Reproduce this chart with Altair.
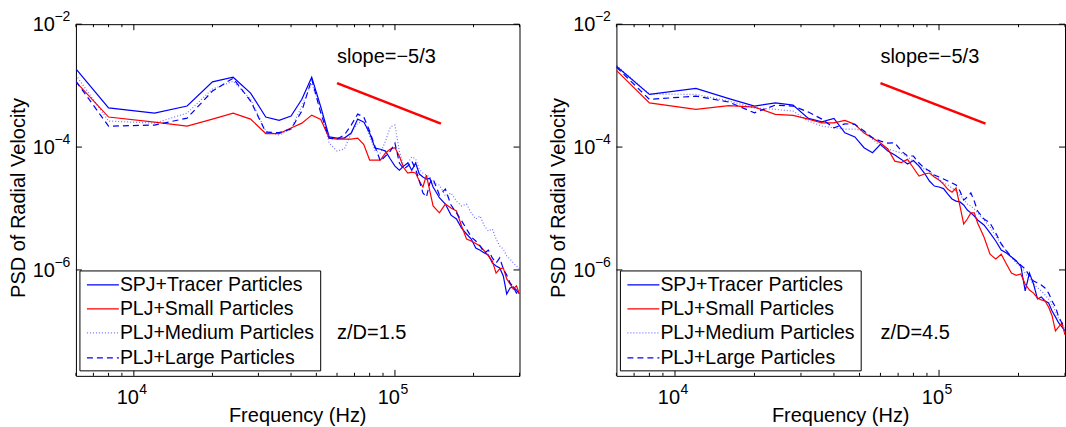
import altair as alt
import pandas as pd

FONT = "Liberation Sans, Arial, Helvetica, sans-serif"

SERIES = ["SPJ+Tracer Particles", "PLJ+Small Particles",
          "PLJ+Medium Particles", "PLJ+Large Particles"]

FREQ = [6000, 8000, 12000, 16000, 20000, 24000, 28000, 32000, 36000, 40000,
        44000, 48000, 52000, 56000, 60000, 64000, 68000, 72000, 76000, 80000,
        84000, 88000, 92000, 96000, 100000, 104000, 108000, 112000, 116000, 120000,
        124000, 128000, 132000, 136000, 140000, 148000, 156000, 164000, 172000, 180000,
        188000, 196000, 204000, 212000, 220000, 228000, 236000, 244000, 252000, 260000,
        268000, 276000, 284000, 292000, 300000]

# ---- z/D = 1.5 ----
L_TRACER = [1.87e-3, 4.35e-4, 3.57e-4, 4.65e-4, 1.15e-3, 1.37e-3, 7.55e-4, 3.08e-4, 2.72e-4, 3.19e-4,
            6.0e-4, 1.37e-3, 4.5e-4, 1.46e-4, 1.4e-4, 1.4e-4, 1.69e-4, 2.85e-4, 2.55e-4, 1.69e-4,
            9.6e-5, 9.2e-5, 8.6e-5, 6.4e-5, 4.9e-5, 4.2e-5, 4.9e-5, 5.5e-5, 4.2e-5, 5.5e-5,
            3.64e-5, 3.25e-5, 3.0e-5, 3.1e-5, 2.24e-5, 1.5e-5, 1.18e-5, 7.8e-6, 6.75e-6, 4.8e-6,
            3.85e-6, 3.19e-6, 2.28e-6, 2.1e-6, 1.89e-6, 1.75e-6, 1.3e-6, 1.16e-6, 1.08e-6, 8.0e-7,
            4.07e-7, 5.1e-7, 5.3e-7, 4.7e-7, 4.07e-7]
L_SMALL = [1.15e-3, 3.08e-4, 2.55e-4, 2.19e-4, 2.85e-4, 3.57e-4, 2.85e-4, 1.66e-4, 1.66e-4, 2.04e-4,
           2.45e-4, 3.31e-4, 2.82e-4, 1.4e-4, 1.35e-4, 1.35e-4, 1.35e-4, 1.4e-4, 1.1e-4, 6.15e-5,
           6.15e-5, 6.15e-5, 8.0e-5, 9.3e-5, 9.8e-5, 7.1e-5, 4.6e-5, 3.78e-5, 3.9e-5, 3.78e-5,
           2.8e-5, 2.24e-5, 3.5e-5, 1.93e-5, 1.1e-5, 8.5e-6, 1.18e-5, 1.02e-5, 9.1e-6, 5.2e-6,
           3.19e-6, 2.96e-6, 2.7e-6, 2.45e-6, 2.04e-6, 1.69e-6, 1.4e-6, 8.9e-7, 1.04e-6, 1.08e-6,
           7.15e-7, 5.9e-7, 4.9e-7, 5.5e-7, 4.07e-7]
L_MEDIUM = [1.48e-3, 2.65e-4, 2.45e-4, 3.57e-4, 8.8e-4, 1.18e-3, 6.0e-4, 1.82e-4, 1.57e-4, 1.96e-4,
            4.65e-4, 1.1e-3, 4.15e-4, 1.16e-4, 8.6e-5, 9.3e-5, 1.69e-4, 2.45e-4, 2.65e-4, 1.51e-4,
            8.6e-5, 8.0e-5, 1.25e-4, 2.12e-4, 2.28e-4, 8.6e-5, 4.9e-5, 5.5e-5, 6.9e-5, 6.4e-5,
            4.39e-5, 3.78e-5, 3.5e-5, 3.25e-5, 2.6e-5, 2.41e-5, 1.6e-5, 1.79e-5, 1.32e-5, 1.1e-5,
            1.18e-5, 8.5e-6, 6.75e-6, 7.55e-6, 5.2e-6, 4.3e-6, 4.65e-6, 3.19e-6, 2.45e-6, 2.19e-6,
            1.69e-6, 1.51e-6, 1.3e-6, 1.16e-6, 1.04e-6]
L_LARGE = [1.18e-3, 2.19e-4, 2.28e-4, 2.96e-4, 8.15e-4, 1.32e-3, 5.6e-4, 1.75e-4, 1.72e-4, 1.96e-4,
           3.85e-4, 1.28e-3, 3.57e-4, 1.4e-4, 1.35e-4, 1.57e-4, 2.28e-4, 3.44e-4, 3.08e-4, 1.82e-4,
           1.0e-4, 5.9e-5, 7.15e-5, 8.6e-5, 1.16e-4, 5.5e-5, 4.39e-5, 4.9e-5, 5.9e-5, 4.39e-5,
           2.8e-5, 1.79e-5, 1.54e-5, 2.6e-5, 3.02e-5, 1.66e-5, 2.07e-5, 1.14e-5, 8.5e-6, 6.3e-6,
           4.65e-6, 3.44e-6, 2.96e-6, 2.45e-6, 1.89e-6, 2.1e-6, 1.57e-6, 1.3e-6, 1.57e-6, 1.04e-6,
           8.3e-7, 6.15e-7, 5.3e-7, 4.2e-7, 4.56e-7]

# ---- z/D = 4.5 ----
R_TRACER = [2.07e-3, 7.2e-4, 9.0e-4, 6.15e-4, 4.65e-4, 5.25e-4, 4.82e-4, 2.93e-4, 2.58e-4, 2.93e-4,
            1.71e-4, 1.46e-4, 9.75e-5, 8.1e-5, 1.11e-4, 8.6e-5, 7.4e-5, 6.3e-5, 5.3e-5, 6.05e-5,
            4.9e-5, 3.78e-5, 2.8e-5, 2.32e-5, 2.24e-5, 2.11e-5, 1.72e-5, 1.43e-5, 1.32e-5, 1.28e-5,
            1.14e-5, 9.45e-6, 8.5e-6, 7.55e-6, 6.5e-6, 5.4e-6, 4.0e-6, 2.96e-6, 2.11e-6, 1.89e-6,
            1.63e-6, 1.4e-6, 1.16e-6, 4.56e-7, 8.9e-7, 5.9e-7, 3.37e-7, 3.64e-7, 3.13e-7, 2.9e-7,
            2.15e-7, 1.72e-7, 1.37e-7, 1.18e-7, 1.02e-7]
R_SMALL = [1.77e-3, 5.25e-4, 4.1e-4, 4.73e-4, 4.47e-4, 3.4e-4, 3.27e-4, 2.85e-4, 2.48e-4, 2.48e-4,
           2.72e-4, 2.34e-4, 1.69e-4, 1.4e-4, 1.16e-4, 9.3e-5, 5.9e-5, 5.6e-5, 6.3e-5, 4.56e-5,
           3.37e-5, 3.64e-5, 3.78e-5, 3.25e-5, 2.9e-5, 2.5e-5, 2.05e-5, 1.84e-5, 2.15e-5, 1.1e-5,
           5.6e-6, 6.75e-6, 8.5e-6, 8.5e-6, 5.8e-6, 3.44e-6, 1.8e-6, 1.51e-6, 1.8e-6, 1.25e-6,
           8.9e-7, 8.2e-7, 8.6e-7, 5.9e-7, 4.7e-7, 4.2e-7, 3.5e-7, 3.25e-7, 3.13e-7, 2.5e-7,
           1.8e-7, 1.02e-7, 1.18e-7, 1.37e-7, 8.8e-8]
R_MEDIUM = [2.15e-3, 7.3e-4, 7.2e-4, 5.6e-4, 4.35e-4, 4.1e-4, 3.85e-4, 2.65e-4, 2.19e-4, 2.06e-4,
            1.96e-4, 1.96e-4, 1.82e-4, 1.35e-4, 1.04e-4, 9.3e-5, 8.6e-5, 8.0e-5, 6.9e-5, 5.9e-5,
            4.9e-5, 4.39e-5, 4.07e-5, 3.37e-5, 3.02e-5, 2.6e-5, 2.41e-5, 2.15e-5, 1.93e-5, 1.66e-5,
            1.43e-5, 1.18e-5, 1.1e-5, 9.8e-6, 8.5e-6, 6.5e-6, 5.0e-6, 3.57e-6, 2.65e-6, 2.04e-6,
            1.63e-6, 1.3e-6, 1.12e-6, 8.9e-7, 7.15e-7, 5.9e-7, 5.1e-7, 4.56e-7, 3.92e-7, 3.37e-7,
            2.7e-7, 2.15e-7, 1.6e-7, 1.37e-7, 1.1e-7]
R_LARGE = [2.0e-3, 5.97e-4, 6.75e-4, 5.4e-4, 3.61e-4, 4.82e-4, 4.65e-4, 3.71e-4, 2.85e-4, 2.06e-4,
           2.39e-4, 2.34e-4, 1.82e-4, 1.42e-4, 1.25e-4, 1.16e-4, 1.17e-4, 8.6e-5, 7.15e-5, 7.15e-5,
           5.5e-5, 4.56e-5, 4.07e-5, 3.5e-5, 3.25e-5, 3.02e-5, 2.8e-5, 2.6e-5, 2.41e-5, 1.93e-5,
           1.37e-5, 1.54e-5, 1.79e-5, 1.32e-5, 9.1e-6, 6.75e-6, 5.8e-6, 4.0e-6, 2.65e-6, 2.04e-6,
           1.63e-6, 1.4e-6, 1.2e-6, 1.04e-6, 8.0e-7, 6.6e-7, 6.15e-7, 5.7e-7, 5.1e-7, 4.2e-7,
           3.13e-7, 2.5e-7, 1.72e-7, 1.37e-7, 1.18e-7]

SLOPE_F = [60000, 150000]
SLOPE_PSD = [1.1e-3, 2.4e-4]
SLOPE_LABEL = "slope=\u22125/3"
ANNOT_F = 60000
SLOPE_LABEL_PSD = 2.9e-3
ZD_LABEL_PSD = 9.5e-8
ZD_LABELS = ["z/D=1.5", "z/D=4.5"]

X_DOMAIN = [6000, 300000]
Y_DOMAIN = [1.89e-8, 1e-2]
X_MAJOR = [1e4, 1e5]
X_MAJOR_EXP = ["4", "5"]
X_MINOR = [6000, 7000, 8000, 9000, 20000, 30000, 40000, 50000, 60000, 70000,
           80000, 90000, 200000, 300000]
Y_MAJOR = [1e-2, 1e-4, 1e-6]
Y_MAJOR_EXP = ["\u22122", "\u22124", "\u22126"]
TICK_BASE = "10"
X_TITLE = "Frequency (Hz)"
Y_TITLE = "PSD of Radial Velocity"

STYLES = [
    dict(color="#0000ff"),
    dict(color="#ff0000"),
    dict(color="#0000ff", strokeDash=[1, 2], opacity=0.55),
    dict(color="#0000ff", strokeDash=[6, 4]),
]

H = 352
FS = 20
FS_LEG = 19.5


def panel(series_vals, W, zd_label, anchor=False):
    xs = alt.Scale(type="log", domain=X_DOMAIN)
    ys = alt.Scale(type="log", domain=Y_DOMAIN)

    def X(f):
        return alt.X(f"{f}:Q", scale=xs, axis=None)

    def Y(f):
        return alt.Y(f"{f}:Q", scale=ys, axis=None)

    layers = []
    for vals, st in zip(series_vals, STYLES):
        df = pd.DataFrame({"f": FREQ, "psd": vals})
        layers.append(alt.Chart(df).mark_line(strokeWidth=1.2, clip=True, **st)
                      .encode(x=X("f"), y=Y("psd")))

    # slope reference line
    sdf = pd.DataFrame({"f": SLOPE_F, "psd": SLOPE_PSD})
    layers.append(alt.Chart(sdf).mark_line(color="#ff0000", strokeWidth=2.5)
                  .encode(x=X("f"), y=Y("psd")))

    # annotations
    adf = pd.DataFrame({"f": [ANNOT_F, ANNOT_F], "psd": [SLOPE_LABEL_PSD, ZD_LABEL_PSD],
                        "t": [SLOPE_LABEL, zd_label]})
    layers.append(alt.Chart(adf).mark_text(font=FONT, fontSize=FS, align="left",
                                           baseline="middle", color="black")
                  .encode(x=X("f"), y=Y("psd"), text="t:N"))

    # inward ticks
    xmaj = pd.DataFrame({"f": X_MAJOR, "e": X_MAJOR_EXP, "b": [TICK_BASE] * len(X_MAJOR)})
    xmin = pd.DataFrame({"f": X_MINOR})
    for y0, y1 in [(H, H - 6), (0, 6)]:
        layers.append(alt.Chart(xmaj).mark_rule(color="black", strokeWidth=1)
                      .encode(x=X("f"), y=alt.value(y0), y2=alt.value(y1)))
    for y0, y1 in [(H, H - 3), (0, 3)]:
        layers.append(alt.Chart(xmin).mark_rule(color="black", strokeWidth=1)
                      .encode(x=X("f"), y=alt.value(y0), y2=alt.value(y1)))
    ymaj = pd.DataFrame({"v": Y_MAJOR, "e": Y_MAJOR_EXP, "b": [TICK_BASE] * len(Y_MAJOR)})
    for x0, x1 in [(0, 6), (W, W - 6)]:
        layers.append(alt.Chart(ymaj).mark_rule(color="black", strokeWidth=1)
                      .encode(y=Y("v"), x=alt.value(x0), x2=alt.value(x1)))

    # tick labels (10 with superscript exponent)
    layers.append(alt.Chart(xmaj).mark_text(font=FONT, fontSize=FS, align="right",
                                            baseline="middle", dx=5, color="black")
                  .encode(x=X("f"), y=alt.value(H + 22), text="b:N"))
    layers.append(alt.Chart(xmaj).mark_text(font=FONT, fontSize=14, align="left",
                                            baseline="middle", dx=5.5, color="black")
                  .encode(x=X("f"), y=alt.value(H + 14), text="e:N"))
    layers.append(alt.Chart(ymaj).mark_text(font=FONT, fontSize=FS, align="right",
                                            baseline="middle", dy=1, color="black")
                  .encode(y=Y("v"), x=alt.value(-21), text="b:N"))
    layers.append(alt.Chart(ymaj).mark_text(font=FONT, fontSize=14, align="left",
                                            baseline="middle", dy=-7, color="black")
                  .encode(y=Y("v"), x=alt.value(-21.5), text="e:N"))

    # axis titles
    tdf = pd.DataFrame({"t": [X_TITLE]})
    layers.append(alt.Chart(tdf).mark_text(font=FONT, fontSize=FS, align="center",
                                           baseline="middle", color="black")
                  .encode(x=alt.value(W / 2), y=alt.value(H + 40), text="t:N"))
    ydf = pd.DataFrame({"t": [Y_TITLE]})
    layers.append(alt.Chart(ydf).mark_text(font=FONT, fontSize=FS, align="center",
                                           baseline="middle", angle=270, color="black")
                  .encode(x=alt.value(-57), y=alt.value(H / 2 - 2), text="t:N"))

    # legend
    box = pd.DataFrame({"k": [0]})
    layers.append(alt.Chart(box).mark_rect(fill="white", stroke="black", strokeWidth=1)
                  .encode(x=alt.value(4), x2=alt.value(245),
                          y=alt.value(247), y2=alt.value(347)))
    rows = [261, 285, 309, 334]
    for name, st, ry in zip(SERIES, STYLES, rows):
        ldf = pd.DataFrame({"t": [name]})
        layers.append(alt.Chart(ldf).mark_rule(strokeWidth=1.2, **st)
                      .encode(x=alt.value(11), x2=alt.value(43), y=alt.value(ry)))
        layers.append(alt.Chart(ldf).mark_text(font=FONT, fontSize=FS_LEG, align="left",
                                               baseline="middle", color="black")
                      .encode(x=alt.value(44), y=alt.value(ry), text="t:N"))

    if anchor:
        layers.append(alt.Chart(box).mark_rule(opacity=0, strokeWidth=0.01)
                      .encode(x=alt.value(-75), x2=alt.value(-74),
                              y=alt.value(-23), y2=alt.value(-22)))

    return alt.layer(*layers).properties(width=W, height=H)


left = panel([L_TRACER, L_SMALL, L_MEDIUM, L_LARGE], 444, ZD_LABELS[0], anchor=True)
right = panel([R_TRACER, R_SMALL, R_MEDIUM, R_LARGE], 449, ZD_LABELS[1])

chart = alt.hconcat(left, right, spacing=97, bounds="flush", padding=0).configure_view(
    stroke="black", strokeWidth=1
).properties(background="white")

chart.save("out.html", embed_options={"renderer": "svg", "actions": False})
